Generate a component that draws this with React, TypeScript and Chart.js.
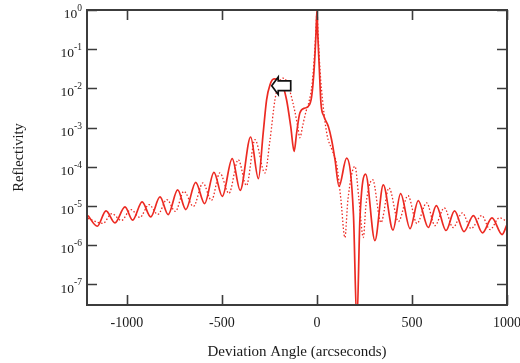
import { useEffect, useRef } from 'react';
import { Chart, registerables } from 'chart.js';

Chart.register(...registerables);

// Deviation angle (arcseconds) and reflectivity
const solidX = [-1205, -1156, -1110, -1063, -1010, -970, -920, -875, -826, -783, -733, -690, -638, -591, -542, -498, -446, -404, -349, -308, -283, -265, -247, -226, -186, -160, -138, -120, -107, -90, -63, -46, -28, -14, -5, 0, 4, 12, 21, 37, 60, 77, 95, 116, 156, 192, 210, 226, 256, 305, 349, 400, 440, 490, 533, 586, 628, 679, 724, 774, 823, 871, 921, 974, 1000];
const solidY = [5.73e-6, 3.06e-6, 7.55e-6, 3.74e-6, 9.55e-6, 4.36e-6, 1.28e-5, 5.31e-6, 1.71e-5, 6.08e-6, 2.58e-5, 8.15e-6, 4.04e-5, 1.16e-5, 7.24e-5, 1.77e-5, 1.62e-4, 2.52e-5, 5.77e-4, 5.0e-5, 7.28e-4, 5.13e-3, 1.24e-2, 1.75e-2, 1.36e-2, 5.13e-3, 1.07e-3, 2.48e-4, 7.3e-4, 2.36e-3, 3.16e-3, 3.47e-3, 6.22e-3, 3.6e-2, 0.255, 1, 0.255, 3.6e-2, 4.23e-3, 1.93e-3, 1.07e-3, 4.92e-4, 1.52e-4, 3.19e-5, 1.66e-4, 6.13e-6, 1e-8, 4.57e-6, 6.52e-5, 1.32e-6, 3.46e-5, 2.45e-6, 2.08e-5, 2.67e-6, 1.38e-5, 2.84e-6, 1.03e-5, 2.38e-6, 7.55e-6, 2.24e-6, 5.73e-6, 2.08e-6, 5.01e-6, 1.88e-6, 3.38e-6];

const dottedX = [-1205, -1126, -1079, -1029, -979, -932, -884, -837, -790, -745, -700, -650, -600, -555, -511, -463, -414, -371, -326, -274, -247, -221, -200, -179, -158, -137, -116, -100, -90, -74, -58, -42, -26, -13, -4, 0, 5, 16, 32, 53, 79, 104, 126, 147, 163, 200, 221, 244, 258, 293, 337, 379, 429, 479, 526, 577, 621, 670, 716, 765, 811, 867, 911, 960, 1000];
const dottedY = [4.85e-6, 3.62e-6, 6.44e-6, 4.31e-6, 8.15e-6, 5.14e-6, 1.09e-5, 6.13e-6, 1.46e-5, 7.31e-6, 2.38e-5, 9.8e-6, 3.89e-5, 1.39e-5, 7.0e-5, 2.1e-5, 1.52e-4, 3.35e-5, 4.92e-4, 7.0e-5, 4.92e-4, 5.13e-3, 1.39e-2, 1.83e-2, 1.47e-2, 6.87e-3, 2.54e-3, 9.93e-4, 5.53e-4, 1.19e-3, 2.54e-3, 4.56e-3, 1.24e-2, 7.16e-2, 0.415, 1, 0.31, 2.97e-2, 3.83e-3, 6.59e-4, 2.74e-4, 1.14e-4, 1.46e-5, 1.58e-6, 1.46e-5, 1.03e-4, 1.46e-5, 1.58e-6, 1.09e-5, 4.72e-5, 3.8e-6, 2.9e-5, 4.04e-6, 1.85e-5, 3.59e-6, 1.21e-5, 3.19e-6, 9.0e-6, 2.84e-6, 6.71e-6, 2.67e-6, 5.73e-6, 2.52e-6, 5.01e-6, 4.04e-6];

const xTickValues = [-1000, -500, 0, 500, 1000];
const yTickExponents = [0, -1, -2, -3, -4, -5, -6, -7];
const xRange = [-1210, 1000];
const yRange = [Math.pow(10, -7.5), 1];
const xTitle = 'Deviation Angle (arcseconds)';
const yTitle = 'Reflectivity';
const arrowTip = { x: -238, y: 0.0117 };

const SERIF = '"Liberation Serif", "Times New Roman", "DejaVu Serif", serif';
const RED = '#ec2a22';

const framePlugin = {
  id: 'frameAndLabels',
  afterDatasetsDraw(chart: any) {
    const { ctx, chartArea: a, scales } = chart;
    const xs = scales.x;
    const ys = scales.y;
    ctx.save();

    // arrow annotation
    const tx = xs.getPixelForValue(arrowTip.x);
    const ty = ys.getPixelForValue(arrowTip.y);
    ctx.beginPath();
    ctx.moveTo(tx, ty);
    ctx.lineTo(tx + 6.5, ty - 8.7);
    ctx.lineTo(tx + 6.5, ty - 4.8);
    ctx.lineTo(tx + 19, ty - 4.8);
    ctx.lineTo(tx + 19, ty + 4.8);
    ctx.lineTo(tx + 6.5, ty + 4.8);
    ctx.lineTo(tx + 6.5, ty + 8.7);
    ctx.closePath();
    ctx.fillStyle = '#ffffff';
    ctx.fill();
    ctx.lineWidth = 1.7;
    ctx.strokeStyle = '#111111';
    ctx.lineJoin = 'miter';
    ctx.stroke();

    // frame
    ctx.strokeStyle = '#3c3c3c';
    ctx.lineWidth = 2;
    ctx.strokeRect(a.left, a.top, a.right - a.left, a.bottom - a.top);

    // inward ticks on all sides
    ctx.lineWidth = 1.6;
    ctx.beginPath();
    xTickValues.forEach((v) => {
      const px = Math.round(xs.getPixelForValue(v)) + 0.5;
      ctx.moveTo(px, a.bottom);
      ctx.lineTo(px, a.bottom - 10);
      ctx.moveTo(px, a.top);
      ctx.lineTo(px, a.top + 10);
    });
    yTickExponents.forEach((e) => {
      const py = Math.round(ys.getPixelForValue(Math.pow(10, e))) + 0.5;
      ctx.moveTo(a.left, py);
      ctx.lineTo(a.left + 10, py);
      ctx.moveTo(a.right, py);
      ctx.lineTo(a.right - 10, py);
    });
    ctx.stroke();

    // x tick labels
    ctx.fillStyle = '#1a1a1a';
    ctx.font = `14px ${SERIF}`;
    ctx.textAlign = 'center';
    ctx.textBaseline = 'middle';
    xTickValues.forEach((v) => {
      ctx.fillText(String(v), xs.getPixelForValue(v), a.bottom + 18);
    });

    // y tick labels 10^n
    yTickExponents.forEach((e) => {
      const py = ys.getPixelForValue(Math.pow(10, e));
      const right = a.left - 5;
      const expText = String(e);
      ctx.font = `9.5px ${SERIF}`;
      const ew = ctx.measureText(expText).width;
      ctx.textAlign = 'left';
      ctx.fillText(expText, right - ew, py - 1.5);
      ctx.font = `13.5px ${SERIF}`;
      ctx.textAlign = 'right';
      ctx.fillText('10', right - ew, py + 4.5);
    });

    // axis titles
    ctx.font = `15px ${SERIF}`;
    ctx.textAlign = 'center';
    ctx.fillText(xTitle, (a.left + a.right) / 2, 352);
    ctx.save();
    ctx.translate(19, (a.top + a.bottom) / 2);
    ctx.rotate(-Math.PI / 2);
    ctx.font = `14.5px ${SERIF}`;
    ctx.fillText(yTitle, 0, 0);
    ctx.restore();

    ctx.restore();
  },
};

export default function App() {
  const canvasRef = useRef<HTMLCanvasElement | null>(null);

  useEffect(() => {
    const canvas = canvasRef.current;
    if (!canvas) return;
    const chart = new Chart(canvas, {
      type: 'line',
      data: {
        datasets: [
          {
            label: 'solid',
            data: solidX.map((x, i) => ({ x, y: solidY[i] })),
            borderColor: RED,
            borderWidth: 1.7,
            pointRadius: 0,
            fill: false,
            cubicInterpolationMode: 'monotone',
            clip: 0,
          },
          {
            label: 'dotted',
            data: dottedX.map((x, i) => ({ x, y: dottedY[i] })),
            borderColor: RED,
            borderWidth: 1.3,
            borderDash: [1.5, 2],
            pointRadius: 0,
            fill: false,
            cubicInterpolationMode: 'monotone',
            clip: 0,
          },
        ],
      },
      options: {
        responsive: false,
        animation: false,
        devicePixelRatio: 1,
        layout: { padding: { left: 87, top: 10, right: 13, bottom: 58 } },
        plugins: { legend: { display: false }, tooltip: { enabled: false } },
        scales: {
          x: { type: 'linear', min: xRange[0], max: xRange[1], display: false },
          y: { type: 'logarithmic', min: yRange[0], max: yRange[1], display: false },
        },
      },
      plugins: [framePlugin],
    } as any);
    return () => chart.destroy();
  }, []);

  return (
    <div style={{ position: 'fixed', left: 0, top: 0, width: 520, height: 363, background: '#fff' }}>
      <canvas ref={canvasRef} width={520} height={363} style={{ width: 520, height: 363, display: 'block' }} />
    </div>
  );
}
